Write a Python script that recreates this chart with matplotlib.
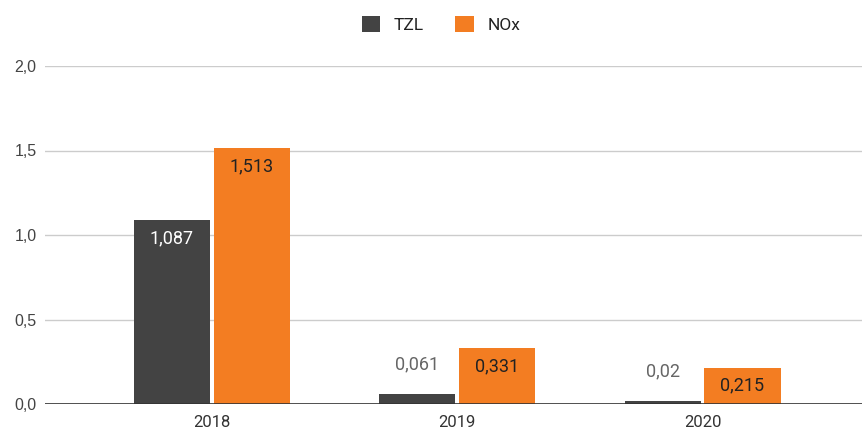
import matplotlib.pyplot as plt
import numpy as np

years = ['2018', '2019', '2020']
tzl = [1.087, 0.061, 0.02]
nox = [1.513, 0.331, 0.215]
series_names = ['TZL', 'NOx']
colors = ['#434343', '#f37d22']


def fmt(v):
    return f"{v:g}".replace('.', ',')


plt.rcParams['font.family'] = ['Roboto', 'DejaVu Sans']

fig = plt.figure(figsize=(8.65, 4.3), dpi=100)
ax = fig.add_axes([45 / 865, 26 / 430, 817 / 865, 338 / 430])

x = np.arange(len(years))
width = 0.31
offset = 0.163

bars_tzl = ax.bar(x - offset, tzl, width, color=colors[0], label=series_names[0], zorder=3)
bars_nox = ax.bar(x + offset, nox, width, color=colors[1], label=series_names[1], zorder=3)

# labels inside the bar when it fits, above it otherwise
for bars, vals, inner in [(bars_tzl, tzl, 'white'), (bars_nox, nox, '#222222')]:
    for b, v in zip(bars, vals):
        cx = b.get_x() + b.get_width() / 2
        if v > 0.15:
            ax.annotate(fmt(v), (cx, v), xytext=(0, -13), textcoords='offset points',
                        ha='center', va='center', fontsize=13, color=inner, zorder=4)
        else:
            ax.annotate(fmt(v), (cx, v), xytext=(0, 21), textcoords='offset points',
                        ha='center', va='center', fontsize=13, color='#666666', zorder=4)

ax.set_ylim(0, 2.0)
ax.set_xlim(-0.68, 2.65)
yt = [0, 0.5, 1.0, 1.5, 2.0]
ax.set_yticks(yt)
ax.set_yticklabels([f"{t:.1f}".replace('.', ',') for t in yt],
                   fontfamily='Liberation Sans', fontsize=11.5, color='#444444')
ax.set_xticks(x)
ax.set_xticklabels(years, fontsize=12, color='#333333')

ax.grid(axis='y', color='#cccccc', linewidth=1, zorder=0)
ax.axhline(0, color='#333333', linewidth=1.2, zorder=4)
for s in ax.spines.values():
    s.set_visible(False)
ax.tick_params(axis='both', length=0)
ax.tick_params(axis='y', pad=6)
ax.tick_params(axis='x', pad=8)

fig.legend(loc='upper center', bbox_to_anchor=(0.51, 1.0), ncol=2, frameon=False,
           fontsize=12.5, handlelength=1.05, handleheight=1.05, columnspacing=1.8,
           handletextpad=0.8, labelcolor='#222222')

fig.savefig('out.png', dpi=100)
